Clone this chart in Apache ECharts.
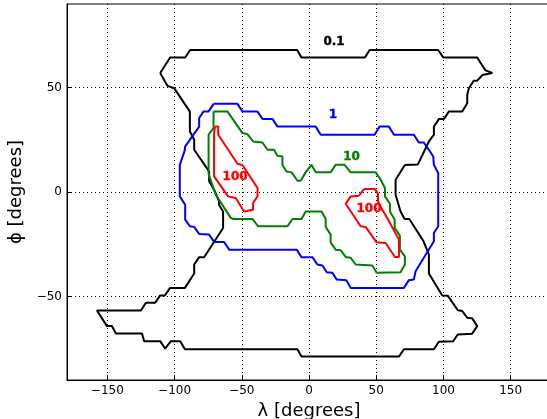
<!DOCTYPE html>
<html>
<head>
<meta charset="utf-8">
<script src="https://cdn.jsdelivr.net/npm/echarts@6/dist/echarts.min.js"></script>
<style>html,body{margin:0;padding:0;background:#fff}</style>
</head>
<body>
<div id="chart" style="width:547px;height:419px"></div>
<script>
// tick values
const xTicks = [-150, -100, -50, 0, 50, 100, 150];
const yTicks = [-50, 0, 50];

// contour level 0.1 (black)
const level01 = [[-110.7,57.0],[-103.3,64.4],[-92.1,64.4],[-88.4,68.0],[-8.8,68.0],[-5.6,64.4],[41.6,64.4],[45.1,68.0],[96.1,68.0],[99.9,64.4],[125.1,64.4],[131.3,58.2],[136.3,57.0],[129.0,56.0],[125.1,53.3],[122.6,53.3],[118.9,49.7],[117.7,46.5],[117.7,42.5],[114.0,38.5],[104.0,38.5],[100.3,34.9],[96.6,34.9],[92.9,31.3],[92.9,27.4],[89.2,24.2],[81.0,13.2],[71.3,12.9],[64.4,5.9],[64.4,-1.3],[68.1,-9.3],[71.1,-12.9],[74.6,-12.9],[85.2,-23.6],[89.2,-30.0],[89.2,-39.0],[99.1,-49.5],[103.3,-49.7],[110.7,-56.6],[114.0,-57.0],[117.7,-60.2],[121.4,-60.5],[125.1,-64.2],[121.4,-67.8],[110.7,-68.2],[107.3,-71.4],[96.6,-71.7],[92.9,-75.3],[70.6,-75.3],[66.9,-78.8],[-5.6,-78.8],[-8.6,-75.3],[-92.3,-75.3],[-95.8,-71.4],[-102.7,-71.4],[-107.0,-75.0],[-110.7,-71.4],[-122.6,-71.4],[-124.2,-67.7],[-143.6,-67.7],[-146.6,-64.2],[-150.3,-64.2],[-157.7,-56.7],[-125.0,-56.7],[-121.3,-53.0],[-114.4,-53.0],[-110.7,-49.5],[-107.2,-49.5],[-103.3,-45.9],[-92.3,-45.9],[-85.4,-39.0],[-85.4,-34.7],[-81.7,-31.2],[-78.0,-31.2],[-63.9,-17.2],[-63.9,-9.3],[-66.9,-6.1],[-66.9,-4.5],[-70.6,1.1],[-74.3,5.1],[-74.3,9.8],[-85.4,20.2],[-85.4,25.0],[-88.6,29.0],[-88.6,38.5],[-100.3,49.7],[-105.2,50.8],[-110.7,57.0]];

// contour level 1 (blue)
const level1 = [[-71.0,42.2],[-53.2,42.2],[-49.5,38.5],[-38.3,38.5],[-34.6,35.0],[-27.2,35.0],[-23.5,31.3],[5.0,31.3],[8.7,27.4],[48.8,27.4],[52.5,31.3],[59.4,31.3],[63.2,27.4],[78.0,27.4],[81.7,23.7],[85.4,23.7],[89.2,20.2],[92.4,17.0],[92.9,13.0],[96.1,9.1],[96.1,-16.4],[92.9,-19.6],[92.9,-23.6],[79.3,-37.9],[78.0,-41.9],[74.3,-42.2],[70.6,-45.9],[31.0,-45.9],[27.8,-42.2],[20.6,-41.9],[17.4,-38.7],[13.2,-38.4],[10.0,-35.2],[6.2,-34.7],[2.5,-31.2],[-5.6,-31.2],[-9.1,-27.6],[-59.4,-27.6],[-63.2,-23.9],[-70.6,-23.9],[-74.3,-20.4],[-81.7,-20.1],[-85.4,-16.7],[-88.6,-16.4],[-92.1,-13.2],[-92.1,-6.1],[-96.1,-2.1],[-96.1,13.0],[-92.3,20.2],[-92.3,21.6],[-81.7,31.3],[-81.7,35.4],[-78.5,38.5],[-74.7,38.5],[-71.0,42.2]];

// contour level 10 (green)
const level10 = [[-71.0,38.5],[-60.6,38.5],[-49.5,28.2],[-45.8,27.7],[-41.6,24.2],[-34.6,23.7],[-30.9,20.2],[-26.0,20.2],[-23.5,17.3],[-19.8,17.0],[-19.8,13.0],[-16.8,9.8],[-12.9,9.4],[-8.6,5.4],[-6.2,5.4],[-2.5,9.4],[1.8,13.0],[5.0,9.4],[16.1,9.4],[19.8,13.0],[26.5,13.0],[31.0,9.4],[49.6,9.4],[53.3,5.9],[56.5,1.9],[56.5,-2.1],[60.2,-5.6],[60.2,-9.3],[63.7,-13.2],[63.7,-17.2],[67.6,-20.9],[67.6,-27.6],[71.3,-30.8],[71.3,-34.7],[68.1,-38.4],[50.3,-38.7],[47.1,-35.2],[34.7,-34.7],[31.0,-31.5],[27.3,-31.1],[23.6,-27.9],[19.8,-27.6],[16.1,-24.1],[16.1,-20.4],[12.4,-16.7],[12.4,-12.9],[9.4,-9.3],[-2.5,-9.3],[-5.6,-12.9],[-12.3,-12.9],[-16.0,-16.4],[-37.9,-16.4],[-42.1,-12.9],[-56.2,-12.9],[-58.2,-12.4],[-69.3,-1.3],[-74.3,7.8],[-74.7,9.1],[-74.7,27.4],[-71.0,30.6],[-71.0,38.5]];

// contour level 100 (red), two islands
const level100a = [[-69.9,31.3],[-67.5,31.3],[-67.5,27.4],[-53.2,13.5],[-49.5,12.9],[-38.3,1.9],[-38.3,-2.1],[-41.6,-5.3],[-41.6,-8.5],[-48.3,-9.3],[-54.5,-2.9],[-60.2,-2.1],[-70.6,7.5],[-70.6,28.2],[-69.9,31.3]];
const level100b = [[40.9,1.4],[49.0,1.4],[51.3,-0.8],[51.3,-4.5],[54.5,-8.5],[58.2,-12.4],[66.9,-22.8],[66.9,-31.1],[63.9,-31.1],[57.0,-24.4],[50.3,-24.1],[42.1,-16.7],[38.4,-16.4],[27.3,-5.6],[31.0,-2.1],[37.1,-1.8],[40.9,1.4]];

// contour labels
const label01 = [[18.6, 72.0, '0.1']];
const label1 = [[17.8, 36.9, '1']];
const label10 = [[31.7, 17.0, '10']];
const label100 = [[-55.0, 7.2, '100'], [44.6, -8.0, '100']];

const font = 'DejaVu Sans';
const minus = v => String(v).replace('-', '\u2212');

function contour(data, color) {
  return {
    type: 'line', data: data, showSymbol: false, silent: true,
    lineStyle: {color: color, width: 2}, animation: false
  };
}
function labels(data, color) {
  return {
    type: 'scatter', data: data, symbolSize: 1, silent: true, animation: false,
    itemStyle: {color: 'rgba(0,0,0,0)'},
    label: {
      show: true, position: 'inside', color: color, fontFamily: font,
      fontWeight: 'bold', fontSize: 12, opacity: 1,
      textBorderColor: color, textBorderWidth: 0.4,
      formatter: p => p.data[2]
    }
  };
}

const chart = echarts.init(document.getElementById('chart'));
chart.setOption({
  backgroundColor: '#fff',
  grid: {
    left: 67, top: 4, width: 484, height: 376, containLabel: false, outerBoundsMode: 'none',
    show: true, borderColor: '#000', borderWidth: 1
  },
  xAxis: {
    type: 'value', min: -180, max: 180,
    name: '\u03bb [degrees]', nameLocation: 'middle', nameGap: 20,
    nameTextStyle: {fontFamily: font, fontSize: 18, color: '#000'},
    axisLine: {show: true, onZero: false, lineStyle: {color: '#000'}},
    axisTick: {inside: true, length: 5, customValues: xTicks, lineStyle: {color: '#000'}},
    axisLabel: {customValues: xTicks, margin: 5, fontFamily: font, fontSize: 12, color: '#000', formatter: minus},
    splitLine: {show: true, lineStyle: {color: '#000', type: [1, 3], width: 1}}
  },
  yAxis: {
    type: 'value', min: -90, max: 90,
    name: '\u03d5 [degrees]', nameLocation: 'middle', nameGap: 36, nameRotate: 90,
    nameTextStyle: {fontFamily: font, fontSize: 18, color: '#000'},
    axisLine: {show: true, onZero: false, lineStyle: {color: '#000'}},
    axisTick: {inside: true, length: 5, customValues: yTicks, lineStyle: {color: '#000'}},
    axisLabel: {customValues: yTicks, margin: 5, fontFamily: font, fontSize: 12, color: '#000', formatter: minus},
    splitLine: {show: true, lineStyle: {color: '#000', type: [1, 3], width: 1}}
  },
  series: [
    contour(level01, '#000000'),
    contour(level1, '#0000ff'),
    contour(level10, '#008000'),
    contour(level100a, '#ff0000'),
    contour(level100b, '#ff0000'),
    labels(label01, '#000000'),
    labels(label1, '#0000ff'),
    labels(label10, '#008000'),
    labels(label100, '#ff0000')
  ]
});
</script>
</body>
</html>
